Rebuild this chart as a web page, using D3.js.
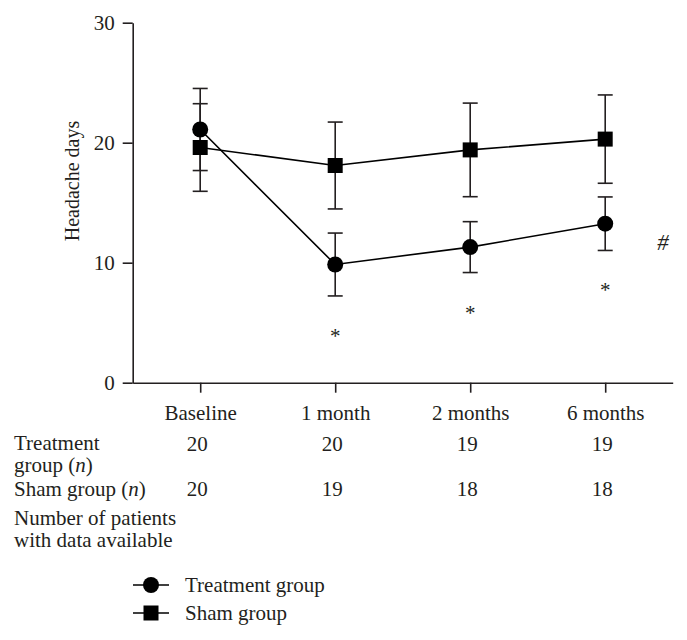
<!DOCTYPE html>
<html>
<head>
<meta charset="utf-8">
<script src="https://cdn.jsdelivr.net/npm/d3@7"></script>
<style>
  html, body { margin: 0; padding: 0; background: #fff; }
  svg text { font-family: "Liberation Serif", "Times New Roman", serif; fill: #231f20; }
</style>
</head>
<body>
<svg id="chart" width="687" height="640"></svg>
<script>
const categories = ["Baseline", "1 month", "2 months", "6 months"];
const treatmentMean = [21.1, 9.85, 11.3, 13.25];
const treatmentErr  = [3.42, 2.62, 2.12, 2.23];
const shamMean      = [19.6, 18.1, 19.4, 20.3];
const shamErr       = [3.65, 3.62, 3.9, 3.68];
const treatmentN    = [20, 20, 19, 19];
const shamN         = [20, 19, 18, 18];
const yTicks        = [0, 10, 20, 30];
const significant   = ["1 month", "2 months", "6 months"];

const ink = "#231f20";
const svg = d3.select("#chart");

const x = d3.scalePoint().domain(categories).range([132.7, 672.7]).padding(0.5);
const y = d3.scaleLinear().domain([0, 30]).range([382.7, 22.7]);

// Axes
const yAxis = d3.axisLeft(y).tickValues(yTicks).tickSize(10).tickSizeOuter(0).tickPadding(8);
const gy = svg.append("g").attr("transform", "translate(132.7,0)").call(yAxis);
gy.selectAll("text").style("font-size", "21px").attr("fill", ink);

const xAxis = d3.axisBottom(x).tickSize(10).tickSizeOuter(0).tickPadding(12);
const gx = svg.append("g").attr("transform", "translate(0,382.7)").call(xAxis);
gx.selectAll("text").style("font-size", "21px").attr("fill", ink);

[gx, gy].forEach(g => {
  g.selectAll("path, line").attr("stroke", ink).attr("stroke-width", 1.6);
});

// Y label
svg.append("text")
  .attr("transform", "translate(79,181) rotate(-90)")
  .attr("text-anchor", "middle")
  .style("font-size", "20px")
  .text("Headache days");

// Series
const series = [
  { name: "Treatment group", mean: treatmentMean, err: treatmentErr, shape: "circle" },
  { name: "Sham group", mean: shamMean, err: shamErr, shape: "square" }
];

const capW = 7.5;
series.forEach(s => {
  const g = svg.append("g");
  categories.forEach((c, i) => {
    const cx = x(c), hi = y(s.mean[i] + s.err[i]), lo = y(s.mean[i] - s.err[i]);
    g.append("line").attr("x1", cx).attr("x2", cx).attr("y1", hi).attr("y2", lo)
      .attr("stroke", ink).attr("stroke-width", 1.6);
    [hi, lo].forEach(yy => g.append("line")
      .attr("x1", cx - capW).attr("x2", cx + capW).attr("y1", yy).attr("y2", yy)
      .attr("stroke", ink).attr("stroke-width", 1.6));
  });
});

const line = d3.line().x((d, i) => x(categories[i])).y(d => y(d));
series.forEach(s => {
  svg.append("path").attr("d", line(s.mean)).attr("fill", "none")
    .attr("stroke", "#000").attr("stroke-width", 1.6);
});

function marker(g, shape, cx, cy) {
  if (shape === "circle") {
    g.append("circle").attr("cx", cx).attr("cy", cy).attr("r", 8).attr("fill", "#000");
  } else {
    g.append("rect").attr("x", cx - 7.5).attr("y", cy - 7.5).attr("width", 15).attr("height", 15).attr("fill", "#000");
  }
}

// draw sham markers first, then treatment on top
[series[1], series[0]].forEach(s => {
  const g = svg.append("g");
  s.mean.forEach((v, i) => marker(g, s.shape, x(categories[i]), y(v)));
});

// significance marks
significant.forEach(c => {
  const i = categories.indexOf(c);
  const yy = y(treatmentMean[i] - treatmentErr[i]) + 37;
  svg.append("text").attr("x", x(c)).attr("y", yy + 10)
    .attr("text-anchor", "middle").style("font-size", "21px").text("*");
});
svg.append("text").attr("x", 663).attr("y", 250).attr("text-anchor", "middle")
  .style("font-size", "23px").style("font-style", "italic").text("#");

// Table of n
const tbl = svg.append("g").style("font-size", "21px");
const t1 = tbl.append("text").attr("x", 14).attr("y", 450);
t1.text("Treatment");
const t2 = tbl.append("text").attr("x", 14).attr("y", 472);
t2.append("tspan").text("group (");
t2.append("tspan").style("font-style", "italic").text("n");
t2.append("tspan").text(")");
const t3 = tbl.append("text").attr("x", 14).attr("y", 496);
t3.append("tspan").text("Sham group (");
t3.append("tspan").style("font-style", "italic").text("n");
t3.append("tspan").text(")");
tbl.append("text").attr("x", 14).attr("y", 525).text("Number of patients");
tbl.append("text").attr("x", 14).attr("y", 547).text("with data available");

categories.forEach((c, i) => {
  tbl.append("text").attr("x", x(c) - 3).attr("y", 451).attr("text-anchor", "middle").text(treatmentN[i]);
  tbl.append("text").attr("x", x(c) - 3).attr("y", 496).attr("text-anchor", "middle").text(shamN[i]);
});

// Legend
const leg = svg.append("g");
series.forEach((s, i) => {
  const ly = 585 + i * 28;
  leg.append("line").attr("x1", 133).attr("x2", 169).attr("y1", ly).attr("y2", ly)
    .attr("stroke", "#000").attr("stroke-width", 1.6);
  marker(leg, s.shape, 151, ly);
  leg.append("text").attr("x", 185).attr("y", ly + 7).style("font-size", "21px").text(s.name);
});
</script>
</body>
</html>
